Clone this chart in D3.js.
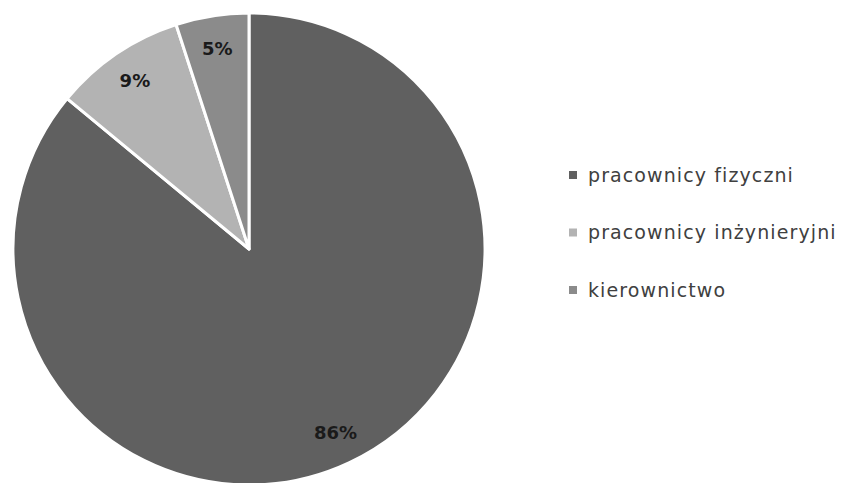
<!DOCTYPE html>
<html>
<head>
<meta charset="utf-8">
<script src="https://cdn.jsdelivr.net/npm/d3@7"></script>
<style>
  body { margin: 0; background: #fff; }
  svg { display: block; font-family: "DejaVu Sans", "Open Sans", sans-serif; }
</style>
</head>
<body>
<svg id="chart" width="843" height="483"></svg>
<script>
// Data
const categories = ["pracownicy fizyczni", "pracownicy inżynieryjni", "kierownictwo"];
const shares = [86, 9, 5];
const colors = ["#606060", "#b3b3b3", "#8b8b8b"];

const svg = d3.select("#chart");
const cx = 249, cy = 249, radius = 236;

const pie = d3.pie().sort(null).value(d => d)(shares);
const arc = d3.arc().innerRadius(0).outerRadius(radius);
const labelArc = d3.arc().innerRadius(203).outerRadius(203);

const g = svg.append("g").attr("transform", `translate(${cx},${cy})`);

// slices with white borders
g.selectAll("path")
    .data(pie)
    .join("path")
    .attr("d", arc)
    .attr("fill", (d, i) => colors[i])
    .attr("stroke", "#fff")
    .attr("stroke-width", 3)
    .attr("stroke-linejoin", "round");

// percentage labels
g.selectAll("text")
    .data(pie)
    .join("text")
    .attr("transform", d => `translate(${labelArc.centroid(d)})`)
    .attr("text-anchor", "middle")
    .attr("dy", "0.35em")
    .attr("font-size", 18)
    .attr("font-weight", "bold")
    .attr("fill", "#1a1a1a")
    .text(d => d.data + "%");

// legend
const legend = svg.append("g").attr("transform", "translate(569,175)");
const item = legend.selectAll("g")
    .data(categories)
    .join("g")
    .attr("transform", (d, i) => `translate(0,${i * 57.5})`);

item.append("rect")
    .attr("x", 0).attr("y", -4)
    .attr("width", 8).attr("height", 8)
    .attr("fill", (d, i) => colors[i]);

item.append("text")
    .attr("x", 19)
    .attr("dy", "0.35em")
    .attr("font-size", 19)
    .attr("letter-spacing", 1.1)
    .attr("fill", "#404040")
    .text(d => d);
</script>
</body>
</html>
